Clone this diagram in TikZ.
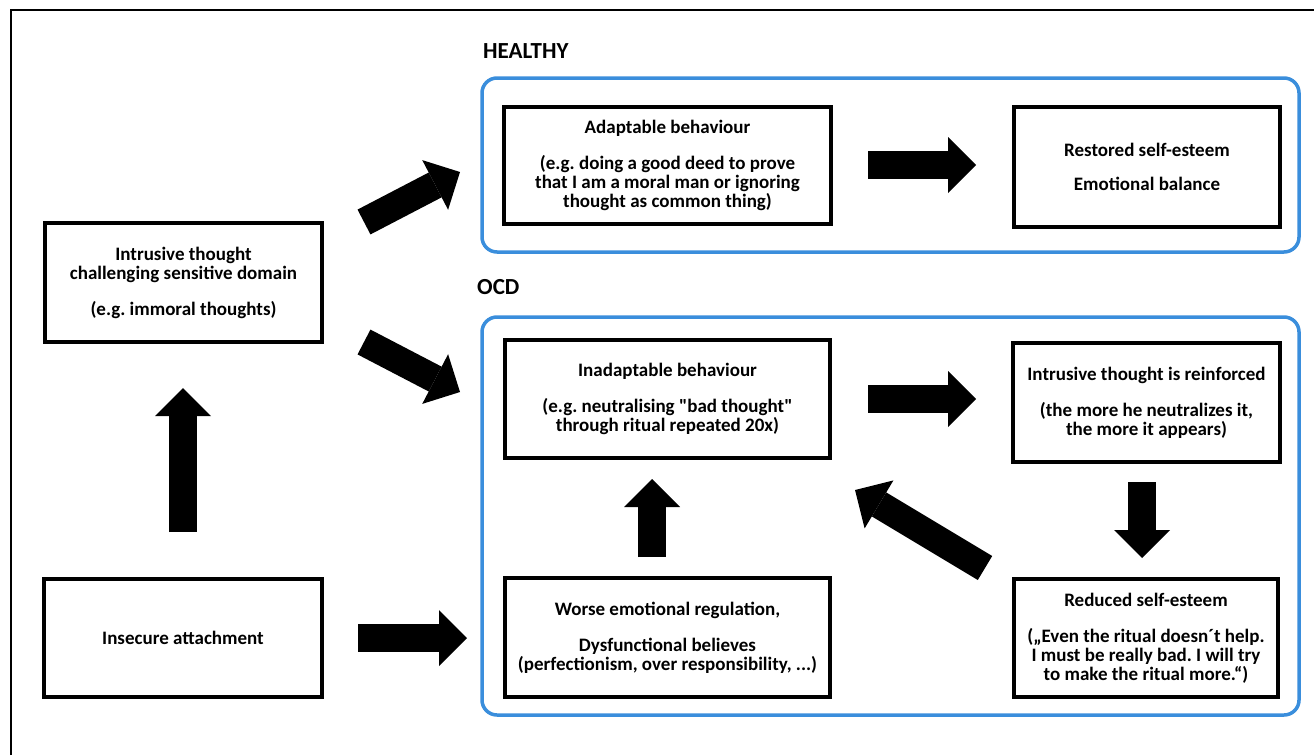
\documentclass[tikz,border=0pt]{standalone}
\usepackage{fontspec}
\setmainfont{Carlito}
\frenchspacing
\usetikzlibrary{%
	positioning,
	arrows.meta
}
\definecolor{groupblue}{RGB}{58,142,220}

\begin{document}
\begin{tikzpicture}[
		x=1pt,y=-1pt,
		SBox/.style={draw,line width=4pt,align=center,inner sep=0pt,font=\fontsize{19}{19}\selectfont\bfseries},
		SGroup/.style={draw=groupblue,line width=3.5pt,rounded corners=15pt},
		title/.style={anchor=base west,inner sep=0pt,font=\fontsize{23}{23}\selectfont\bfseries},
		fat/.style={line width=28pt,-{Triangle[length=28pt,width=56pt,line width=0pt]}}
	]
	\useasboundingbox (0,0) rectangle (1314,755);
	\draw[line width=2pt] (11,755) -- (11,10) -- (1314,10);
	
	%groups
	\draw[SGroup] (482,78) rectangle (1299,252);
	\draw[SGroup] (482,317) rectangle (1299,715);
	\node(healthy) [title] at (483,58) {HEALTHY};
	\node(ocd) [title] at (477,294) {OCD};
	
	%left column
	\node(thought) [SBox,minimum width=277pt,minimum height=119pt] at (183.5,282.5) {Intrusive thought\\challenging sensitive domain\\[17pt](e.g. immoral thoughts)};
	\node(insecure) [SBox,minimum width=278pt,minimum height=118pt] at (183,638) {Insecure attachment};
	
	%healthy
	\node(adapt) [SBox,minimum width=327pt,minimum height=117pt] at (667.5,165.5) {Adaptable behaviour\\[17pt](e.g. doing a good deed to prove\\that I am a moral man or ignoring\\thought as common thing)};
	\node(restored) [SBox,minimum width=266pt,minimum height=120pt] at (1147,167) {Restored self-esteem\\[15pt]Emotional balance};
	
	%ocd
	\node(inadapt) [SBox,minimum width=325pt,minimum height=118pt] at (667.5,399) {Inadaptable behaviour\\[17pt](e.g. neutralising \textquotedbl bad thought\textquotedbl\\through ritual repeated 20x)};
	\node(reinforced) [SBox,minimum width=267pt,minimum height=119pt] at (1146.5,402.5) {Intrusive thought is reinforced\\[17pt](the more he neutralizes it,\\the more it appears)};
	\node(worse) [SBox,minimum width=325pt,minimum height=119pt] at (667.5,637.5) {Worse emotional regulation,\\[17pt]Dysfunctional believes\\(perfectionism, over responsibility, ...)};
	\node(reduced) [SBox,minimum width=264pt,minimum height=118pt] at (1146,638) {Reduced self-esteem\\[17pt](„Even the ritual doesn´t help.\\I must be really bad. I will try\\to make the ritual more.“)};
	
	%arrows
	\coordinate (up-s) at (183,532);
	\coordinate (up-e) at (183,388);
	\coordinate (toH-s) at (364,222);
	\coordinate (toH-e) at (460,172);
	\coordinate (toO-s) at (364,342);
	\coordinate (toO-e) at (460,392);
	\coordinate (att-s) at (358,638);
	\coordinate (att-e) at (467,638);
	\coordinate (hr-s) at (868,165);
	\coordinate (hr-e) at (976,165);
	\coordinate (or-s) at (868,399);
	\coordinate (or-e) at (976,399);
	\coordinate (emo-s) at (652,557);
	\coordinate (emo-e) at (652,479);
	\coordinate (dn-s) at (1142,482);
	\coordinate (dn-e) at (1142,558);
	\coordinate (back-s) at (985,568);
	\coordinate (back-e) at (855,490);
	
	\draw[fat] (up-s) -- (up-e);
	\draw[fat] (toH-s) -- (toH-e);
	\draw[fat] (toO-s) -- (toO-e);
	\draw[fat] (att-s) -- (att-e);
	\draw[fat] (hr-s) -- (hr-e);
	\draw[fat] (or-s) -- (or-e);
	\draw[fat] (emo-s) -- (emo-e);
	\draw[fat] (dn-s) -- (dn-e);
	\draw[fat] (back-s) -- (back-e);
	
\end{tikzpicture}
\end{document}
